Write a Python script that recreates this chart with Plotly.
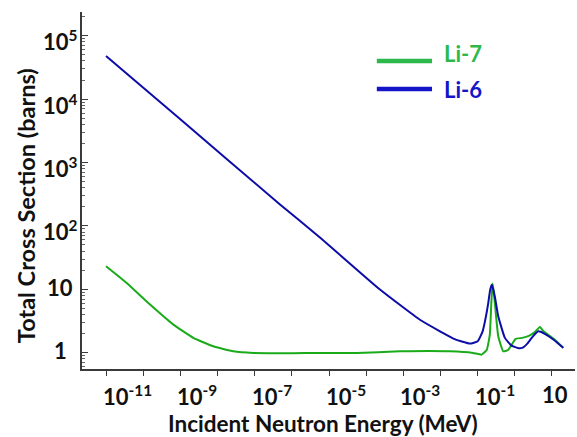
import math
import plotly.graph_objects as go

# ---- data ----
li6_energy = [1e-11, 1e-9, 4.8e-7, 5.7e-6, 2.35e-4, 2.8e-3, 9.7e-3, 0.025, 0.062, 0.1,
              0.136, 0.165, 0.193, 0.215, 0.238, 0.262, 0.292, 0.358, 0.54, 0.8,
              1.2, 1.58, 2.2, 3.07, 4.3, 6.2, 11.1, 20.1]
li6_sigma = [48000, 4800, 218, 65.6, 9.9, 3.3, 2.17, 1.62, 1.39, 1.51,
             2.17, 3.6, 6.1, 9.5, 11.8, 10.0, 7.5, 3.74, 1.71, 1.3,
             1.18, 1.19, 1.4, 1.81, 2.17, 2.0, 1.60, 1.19]

li7_energy = [1e-11, 3.6e-11, 1.53e-10, 6.5e-10, 2.23e-9, 7.7e-9, 2.66e-8, 9.2e-8, 5.6e-5, 8.1e-4,
              0.018, 0.075, 0.128, 0.175, 0.212, 0.232, 0.252, 0.272, 0.292, 0.358,
              0.489, 0.66, 1.05, 1.58, 2.45, 3.4, 4.74, 5.9, 11.1, 20.1]
li7_sigma = [23.1, 12.6, 5.73, 2.77, 1.71, 1.26, 1.05, 0.99, 0.99, 1.05,
             1.05, 0.99, 0.93, 1.1, 1.9, 5.8, 12.3, 8.8, 5.8, 1.81,
             1.05, 1.1, 1.65, 1.71, 1.86, 2.1, 2.55, 2.17, 1.65, 1.19]

x_tick_values = [1e-11, 1e-10, 1e-9, 1e-8, 1e-7, 1e-6, 1e-5, 1e-4, 1e-3, 1e-2, 1e-1, 1, 10]
x_label_values = [1e-11, 1e-9, 1e-7, 1e-5, 1e-3, 1e-1, 10]
x_label_texts = ["10<sup>-11</sup>", "10<sup>-9</sup>", "10<sup>-7</sup>", "10<sup>-5</sup>",
                 "10<sup>-3</sup>", "10<sup>-1</sup>", "10"]
y_label_values = [1, 10, 100, 1000, 10000, 100000]
y_label_texts = ["1", "10", "10<sup>2</sup>", "10<sup>3</sup>", "10<sup>4</sup>", "10<sup>5</sup>"]

series_names = ["Li-7", "Li-6"]
line_colors = ["#1aab1a", "#0c0ca8"]
legend_colors = ["#2cb84a", "#1414c8"]

FONT = "Lato"
AXIS_COLOR = "#3a3a3a"

fig = go.Figure()
fig.add_trace(go.Scatter(x=li7_energy, y=li7_sigma, mode="lines", name=series_names[0],
                         line=dict(color=line_colors[0], width=2, shape="spline", smoothing=0.4),
                         showlegend=False))
fig.add_trace(go.Scatter(x=li6_energy, y=li6_sigma, mode="lines", name=series_names[1],
                         line=dict(color=line_colors[1], width=2, shape="spline", smoothing=0.4),
                         showlegend=False))

# minor y ticks
minor_vals = []
for k in range(-1, 6):
    for d in range(2, 10):
        v = d * 10 ** k
        if 0.55 < v < 2.3e5:
            minor_vals.append(v)

fig.update_xaxes(type="log", range=[-11.646, 1.619], showgrid=False, zeroline=False,
                 showline=True, linecolor=AXIS_COLOR, linewidth=1.5,
                 tickmode="array", tickvals=x_tick_values, ticks="outside", ticklen=5,
                 tickwidth=1.2, tickcolor=AXIS_COLOR, showticklabels=False)
fig.update_yaxes(type="log", range=[-0.258, 5.374], showgrid=False, zeroline=False,
                 showline=True, linecolor=AXIS_COLOR, linewidth=1.5,
                 tickmode="array", tickvals=y_label_values, ticks="inside", ticklen=6,
                 tickwidth=1.2, tickcolor=AXIS_COLOR, showticklabels=False,
                 minor=dict(tickvals=minor_vals, ticks="inside", ticklen=3,
                            tickwidth=1, tickcolor="#666666"))

annotations = []
for v, t in zip(x_label_values, x_label_texts):
    powered = "<sup>" in t
    annotations.append(dict(x=math.log10(v), y=0, xref="x", yref="paper", text="<b>" + t + "</b>",
                            showarrow=False, xanchor="left" if powered else "center",
                            xshift=-5 if powered else 3, yanchor="top", yshift=-10,
                            font=dict(family=FONT, size=22, color="#111111")))
for v, t in zip(y_label_values, y_label_texts):
    powered = "<sup>" in t
    annotations.append(dict(x=-0.0446, y=math.log10(v), xref="paper", yref="y", text="<b>" + t + "</b>",
                            showarrow=False, xanchor="center", yanchor="middle",
                            yshift=-5 if powered else 2,
                            font=dict(family=FONT, size=22, color="#111111")))
annotations.append(dict(x=0.488, y=-0.153, xref="paper", yref="paper",
                        text="<b>Incident Neutron Energy (MeV)</b>", showarrow=False,
                        xanchor="center", yanchor="middle",
                        font=dict(family=FONT, size=22.5, color="#111111")))
annotations.append(dict(x=-0.1136, y=0.459, xref="paper", yref="paper",
                        text="<b>Total Cross Section (barns)</b>", showarrow=False, textangle=-90,
                        xanchor="center", yanchor="middle",
                        font=dict(family=FONT, size=23.5, color="#111111")))

# legend (line samples + coloured labels)
legend_rows = [(0.863, 0.885), (0.784, 0.784)]
shapes = []
for (ly, ty), name, lc, tc in zip(legend_rows, series_names, legend_colors, legend_colors):
    shapes.append(dict(type="line", xref="paper", yref="paper", x0=0.598, x1=0.710, y0=ly, y1=ly,
                       line=dict(color=lc, width=4.5)))
    annotations.append(dict(x=0.730, y=ty, xref="paper", yref="paper", text="<b>" + name + "</b>",
                            showarrow=False, xanchor="left", yanchor="middle",
                            font=dict(family=FONT, size=22, color=tc)))

fig.update_layout(width=577, height=437, margin=dict(l=82, r=2, t=12, b=68),
                  paper_bgcolor="white", plot_bgcolor="white",
                  annotations=annotations, shapes=shapes, showlegend=False)

fig.write_html("out.html")
